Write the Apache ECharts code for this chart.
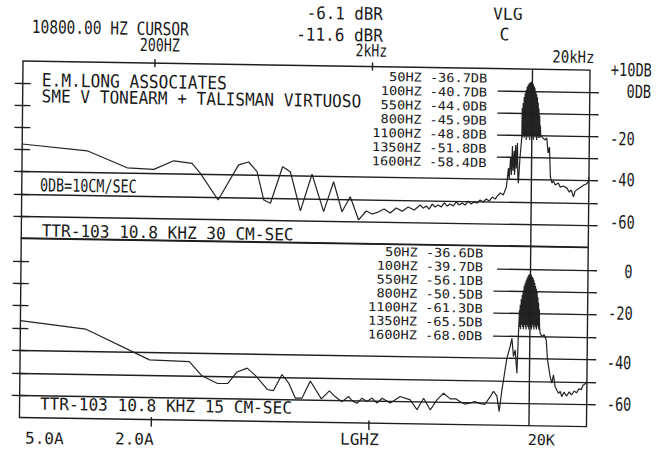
<!DOCTYPE html>
<html><head><meta charset="utf-8">
<script src="https://cdn.jsdelivr.net/npm/echarts@6/dist/echarts.min.js"></script>
<style>
html,body{margin:0;padding:0;background:#fff;overflow:hidden;}
#c{width:663px;height:451px;transform-origin:22px 63px;transform:matrix(1,0.016,-0.01,1,0,0);}
</style></head><body><div id="c"></div>
<script>
// ---------- DATA (frequency Hz, level dB) ----------
const topLow = [[49.5,-27.5],[98.6,-30.1],[150.6,-37.5],[200,-38.0],[246.6,-34.0],[299.4,-35.0],[327.3,-39.5],[396,-51.4],[490,-35.4],[545,-34.0],[596,-38.3],[642,-51.1],[689,-52.5],[781,-35.9],[848,-38.1],[947,-55.7],[1067,-39.1],[1211,-55.9],[1342,-42.3],[1471,-55.8],[1603,-49.0],[1755,-59.4],[1900,-55.3],[2024,-56.6],[2156,-55.7],[2298,-54.3],[2449,-56.0],[2610,-53.7],[2781,-55.1],[2963,-53.2],[3158,-54.5],[3365,-52.2],[3473,-53.6],[3585,-52.6],[3701,-54.0],[3820,-51.7],[3943,-53.0],[4070,-52.1],[4201,-53.0],[4336,-51.1],[4476,-52.5],[4620,-51.5],[4769,-52.4],[4922,-50.6],[5081,-51.9],[5244,-51.0],[5413,-51.9],[5588,-50.1],[5768,-51.4],[5953,-50.5],[6145,-50.9],[6343,-49.5],[6548,-50.4],[6759,-49.0],[6976,-49.9],[7201,-48.1],[7433,-49.0],[7592,-47.6],[7838,-46.2],[8090,-47.1],[8351,-43.5],[8529,-34.8],[8600,-40.0],[8712,-29.9],[8800,-38.0],[8871,-24.9],[8950,-36.0],[9050,-27.0],[9100,-38.0],[9185,-24.4],[9260,-35.0],[9352,-23.5],[9420,-38.0],[9482,-41.6],[9620,-30.0],[9788,-20.8]];
const topTone = [[9790,-21],[9800,-7.6],[9850,-21],[9900,-5.4],[9950,-20],[10000,-2.7],[10050,-21],[10100,-0.9],[10150,-20],[10200,0.5],[10250,-22],[10300,1.9],[10350,-20],[10400,2.8],[10450,-21],[10500,3.4],[10550,-20],[10600,3.9],[10650,-22],[10700,4.1],[10750,-20],[10800,4.3],[10850,-21],[10900,3.9],[10950,-20],[11000,3.2],[11050,-22],[11100,2.3],[11150,-20],[11200,1.4],[11250,-21],[11300,0],[11350,-20],[11400,-1.3],[11450,-22],[11500,-2.7],[11550,-20],[11600,-5],[11650,-21],[11700,-7.7],[11750,-20],[11800,-10.9],[11850,-21],[11900,-15.4],[11950,-20],[12000,-19.9]];
const topHigh = [[12480,-21.9],[12748,-21.0],[12940,-27.8],[13130,-25.1],[13298,-38.6],[13540,-41.3],[13727,-40.4],[14020,-42.2],[14470,-41.3],[14781,-43.1],[15258,-42.6],[15868,-43.5],[16260,-45.3],[16600,-44.3],[17010,-47.4],[17300,-44.8],[17840,-43.8],[18400,-42.9],[18970,-42.0],[19460,-41.5],[19874,-40.6],[20000,-38.4]];

const bottomLow = [[49.5,-26.7],[98.7,-30.0],[194.8,-43.3],[297.2,-43.8],[338,-49.9],[399.4,-53.3],[447.6,-53.3],[493,-48.1],[548,-46.3],[598,-49.5],[680,-55.7],[725,-56.2],[793,-48.9],[852,-52.7],[916,-59.4],[983,-59.3],[1071,-51.6],[1206,-59.5],[1312,-55.9],[1398,-58.5],[1501,-60.6],[1609,-58.3],[1673,-60.2],[1759,-61.2],[1854,-58.9],[1955,-60.4],[2062,-58.8],[2174,-61.0],[2292,-58.8],[2502,-60.9],[2778,-57.9],[3090,-59.3],[3322,-63.7],[3557,-58.5],[3822,-63.7],[4098,-59.1],[4391,-56.1],[4718,-58.6],[5000,-58.5],[5229,-59.7],[5500,-60.8],[5786,-60.4],[6100,-59.6],[6446,-60.4],[6800,-60.8],[7194,-57.4],[7450,-54.9],[7723,-56.9],[7930,-63.9],[8142,-54.2],[8274,-49.7],[8558,-39.9],[8843,-34.8],[9004,-31.1],[9168,-39.2],[9334,-36.3],[9522,-46.6],[9643,-28.8],[9726,-18.4]];
const bottomTone = [[9750,-26],[9800,-16],[9850,-27],[9900,-13.5],[9950,-25],[10000,-11.5],[10050,-26],[10100,-9.5],[10150,-27],[10200,-7.5],[10250,-25],[10300,-6.4],[10350,-26],[10400,-5.2],[10450,-27],[10500,-4.2],[10550,-25],[10600,-3.3],[10650,-26],[10700,-2.6],[10750,-27],[10800,-2.2],[10850,-25],[10900,-2.3],[10950,-26],[11000,-2.8],[11050,-27],[11100,-3.4],[11150,-25],[11200,-4.0],[11250,-26],[11300,-5.0],[11350,-27],[11400,-6.2],[11450,-25],[11500,-7.5],[11550,-26],[11600,-8.8],[11650,-27],[11700,-10],[11750,-25],[11800,-12.5],[11850,-26],[11900,-15],[11950,-27],[12000,-18],[12050,-26]];
const bottomHigh = [[12132,-28.6],[12353,-30.1],[12660,-29.3],[12946,-31.6],[13151,-40.5],[13547,-47.9],[13807,-50.8],[14028,-47.1],[14298,-52.4],[14822,-55.3],[15100,-54.5],[15353,-56.8],[15700,-54.8],[16171,-56.5],[16600,-54.6],[17030,-56.0],[17500,-54.2],[17930,-55.0],[18400,-53.2],[18880,-53.5],[19200,-51.5],[19520,-51.2],[20000,-49.9]];

const cursorHz = 10800;
const tickLevels = [0,-10,-20,-30,-40,-50,-60];
const fullLevels = [-40,-50,-60];
const partialLevels = [0,-10,-20,-30];
const axisFreqTicks = [200,2000];

const topLegendHz = ['50HZ','100HZ','550HZ','800HZ','1100HZ','1350HZ','1600HZ'];
const topLegendDb = ['-36.7DB','-40.7DB','-44.0DB','-45.9DB','-48.8DB','-51.8DB','-58.4DB'];
const bottomLegendHz = ['50HZ','100HZ','550HZ','800HZ','1100HZ','1350HZ','1600HZ'];
const bottomLegendDb = ['-36.6DB','-39.7DB','-56.1DB','-50.5DB','-61.3DB','-65.5DB','-68.0DB'];

const topScaleLabels = ['+10DB','0DB','-20','-40','-60'];
const bottomScaleLabels = ['0','-20','-40','-60'];
const topFreqLabels = ['200HZ','2kHz','20kHz'];
const bottomFreqLabels = ['5.0A','2.0A','LGHZ','20K'];
const headerTexts = ['10800.00 HZ CURSOR','-6.1 dBR','-11.6 dBR','VLG','C'];
const titleTexts = ['E.M.LONG ASSOCIATES','SME V TONEARM + TALISMAN VIRTUOSO','0DB=10CM/SEC','TTR-103 10.8 KHZ 30 CM-SEC','TTR-103 10.8 KHZ 15 CM-SEC'];

// ---------- CHART ----------
const INK = '#1f1f1f';
const FONT = 'DejaVu Sans Mono';
const chart = echarts.init(document.getElementById('c'), null, {renderer:'svg', width:663, height:451});

function yAxes(g){
  const base = {gridIndex:g, type:'value', min:-70, max:10, interval:10,
    axisLabel:{show:false}, splitLine:{show:false}, axisLine:{show:false}};
  const ts = {color:INK, width:1.4};
  return [
    Object.assign({}, base, {position:'left', axisTick:{show:true, inside:false, length:8, customValues:tickLevels, lineStyle:ts}}),
    Object.assign({}, base, {position:'left', axisTick:{show:true, inside:true, length:8, customValues:tickLevels, lineStyle:ts}}),
    Object.assign({}, base, {position:'right', axisTick:{show:true, inside:false, length:9, customValues:tickLevels, lineStyle:ts}})
  ];
}
function gridMarks(partialStarts){
  const d = [];
  fullLevels.forEach(v => d.push({yAxis:v}));
  partialLevels.forEach((v,i) => d.push([{coord:[partialStarts[i], v]},{coord:[20000, v]}]));
  d.push({xAxis:cursorHz});
  return {silent:true, symbol:['none','none'], animation:false, label:{show:false},
    lineStyle:{color:INK, width:1.4, type:'solid'}, emphasis:{disabled:true}, data:d};
}
const lineBase = {type:'line', showSymbol:false, symbol:'none', animation:false, silent:true,
  lineStyle:{color:'#232323', width:1.2}, emphasis:{disabled:true}};

chart.setOption({
  animation:false,
  backgroundColor:'#ffffff',
  grid:[
    {left:23, top:61, width:567, height:177, show:true, borderColor:INK, borderWidth:1.4},
    {left:23, top:238.5, width:567, height:179, show:true, borderColor:INK, borderWidth:1.4}
  ],
  xAxis:[0,1].map(g => ({gridIndex:g, type:'log', logBase:10, min:49.5, max:20000,
    position: g ? 'bottom' : 'top', axisLine:{show:false}, axisTick:{show:false},
    axisLabel:{show:false}, splitLine:{show:false}})),
  yAxis: yAxes(0).concat(yAxes(1)),
  series:[
    Object.assign({}, lineBase, {xAxisIndex:0, yAxisIndex:0, data: topLow.concat(topTone, topHigh),
      markLine: gridMarks([7530,7530,7530,7530])}),
    Object.assign({}, lineBase, {xAxisIndex:1, yAxisIndex:3, data: bottomLow.concat(bottomTone, bottomHigh),
      markLine: gridMarks([7640,7370,7370,7370])})
  ]
});

function T(text, x, y, size, opt){
  opt = opt || {};
  return {type:'text', x:x, y:y, scaleY: opt.sy || 1, silent:true, z:10,
    style:{text:text, x:0, y:0, fontSize:size, fontFamily:FONT, fontWeight: opt.w || 'normal',
      fill:'#1a1a1a', textAlign: opt.align || 'left', textVerticalAlign:'middle'}};
}
function L(x1,y1,x2,y2){
  return {type:'line', silent:true, z:5, shape:{x1:x1,y1:y1,x2:x2,y2:y2}, style:{stroke:INK, lineWidth:1.4}};
}
const els = [];
axisFreqTicks.forEach(f => {
  const xt = chart.convertToPixel({xAxisIndex:0}, f);
  els.push(L(xt, 57, xt, 65));
  const xb = chart.convertToPixel({xAxisIndex:1}, f);
  els.push(L(xb, 415, xb, 424.5));
});
// header
els.push(T(headerTexts[0], 31.4, 26.9, 14.5, {sy:1.25}));
els.push(T(headerTexts[1], 306.3, 8.5, 15.8, {sy:1.1}));
els.push(T(headerTexts[2], 295.9, 29.6, 16, {sy:1.1}));
els.push(T(headerTexts[3], 492.5, 5.8, 16.4, {sy:1.05}));
els.push(T(headerTexts[4], 499.1, 26.4, 16.4, {sy:1.05}));
els.push(T(topFreqLabels[0], 159.6, 42.8, 13.3, {align:'center', sy:1.35}));
els.push(T(topFreqLabels[1], 371.2, 45.4, 13.2, {align:'center', sy:1.3}));
els.push(T(topFreqLabels[2], 552.2, 48.5, 14, {sy:1.2}));
// right scale labels
els.push(T(topScaleLabels[0], 651.8, 60.3, 13.6, {align:'right', sy:1.35}));
els.push(T(topScaleLabels[1], 651.3, 81.9, 13.6, {align:'right', sy:1.35}));
els.push(T(topScaleLabels[2], 610.8, 129.4, 13.6, {sy:1.35}));
els.push(T(topScaleLabels[3], 611.2, 170.4, 13.6, {sy:1.35}));
els.push(T(topScaleLabels[4], 611.6, 212.7, 13.6, {sy:1.35}));
els.push(T(bottomScaleLabels[0], 630.4, 262.0, 13.6, {align:'center', sy:1.35}));
els.push(T(bottomScaleLabels[1], 610.5, 303.9, 13.6, {sy:1.35}));
els.push(T(bottomScaleLabels[2], 609.7, 353.3, 13.6, {sy:1.35}));
els.push(T(bottomScaleLabels[3], 610.1, 394.9, 13.6, {sy:1.35}));
// titles
els.push(T(titleTexts[0], 41.9, 79.7, 16.2, {sy:1.12}));
els.push(T(titleTexts[1], 42.0, 95.7, 16.1, {sy:1.1}));
els.push(T(titleTexts[2], 41.2, 184.7, 13.4, {sy:1.35}));
els.push(T(titleTexts[3], 43.4, 230.5, 16.1, {sy:1.05}));
els.push(T(titleTexts[4], 43.4, 403.7, 16.1, {sy:1.05}));
// legends
topLegendHz.forEach((h,i) => els.push(T(h + ' ' + topLegendDb[i], 487.3, 70.9 + i*14.07, 13.6, {align:'right', sy:0.9})));
bottomLegendHz.forEach((h,i) => els.push(T(h + ' ' + bottomLegendDb[i], 485, 245.9 + i*13.8, 13.6, {align:'right', sy:0.9})));
// bottom labels
els.push(T(bottomFreqLabels[0], 28.8, 438, 16));
els.push(T(bottomFreqLabels[1], 118.8, 437.2, 16));
els.push(T(bottomFreqLabels[2], 343.8, 433.9, 16));
els.push(T(bottomFreqLabels[3], 531.5, 431.8, 15));

chart.setOption({graphic:{elements:els}});
</script>
</body></html>
